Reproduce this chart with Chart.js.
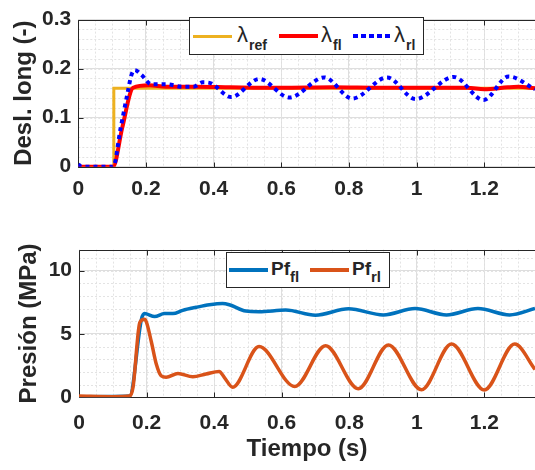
<!DOCTYPE html>
<html>
<head>
<meta charset="utf-8">
<script src="https://cdn.jsdelivr.net/npm/chart.js@4.4.1/dist/chart.umd.min.js"></script>
<style>
    body { margin: 0; background: #fff; width: 535px; height: 470px; overflow: hidden; position: relative;
           font-family: "Liberation Sans", Arial, sans-serif; color: #262626; }
    canvas { position: absolute; left: 0; }
    #slipChart { top: 0; }
    #pressChart { top: 230px; }
    .box { position: absolute; background: #fff; border: 1px solid #262626; box-sizing: border-box; }
    .sw { position: absolute; height: 4px; }
    .lb { position: absolute; white-space: nowrap; }
    .lam { font-size: 22px; line-height: 21px; }
    .lam .sb { font-size: 14px; font-weight: bold; position: relative; top: 8px; margin-left: 1px; }
    .pf { font-size: 19px; line-height: 19px; font-weight: bold; }
    .pf .sb { font-size: 15px; position: relative; top: 7px; }
</style>
</head>
<body>
<canvas id="slipChart" width="535" height="230"></canvas>
<canvas id="pressChart" width="535" height="240"></canvas>

<div class="box" style="left:189px;top:17px;width:235px;height:38px"></div>
<div class="sw" style="left:193px;top:35px;width:39px;height:3px;background:#EDB120"></div>
<div class="lb lam" style="left:237px;top:24px">λ<span class="sb">ref</span></div>
<div class="sw" style="left:279px;top:34px;width:39px;background:#FF0000"></div>
<div class="lb lam" style="left:321px;top:24px">λ<span class="sb">fl</span></div>
<div class="sw" style="left:353px;top:34px;width:37px;background:repeating-linear-gradient(90deg,#0000FF 0 5px,transparent 5px 8px)"></div>
<div class="lb lam" style="left:394px;top:24px">λ<span class="sb">rl</span></div>

<div class="box" style="left:226px;top:252px;width:164px;height:36px"></div>
<div class="sw" style="left:229px;top:268px;width:39px;background:#0072BD"></div>
<div class="lb pf" style="left:271px;top:259px">Pf<span class="sb">fl</span></div>
<div class="sw" style="left:310px;top:268px;width:39px;background:#D95319"></div>
<div class="lb pf" style="left:352px;top:259px">Pf<span class="sb">rl</span></div>

<script>
// ---- data ----
const timeTicks = [0, 0.2, 0.4, 0.6, 0.8, 1, 1.2];
const slipTicks = [0, 0.1, 0.2, 0.3];
const pressTicks = [0, 5, 10];

const tRef = [0, 0.105, 0.105, 1.35];
const lamRef = [0, 0, 0.16, 0.16];

const tFl = [0, 0.103, 0.13, 0.162, 0.21, 0.26, 0.35, 0.45, 0.6, 0.75, 0.9, 1.05, 1.15, 1.2, 1.27, 1.3, 1.35];
const lamFl = [0, 0, 0.08, 0.161, 0.166, 0.163, 0.163, 0.162, 0.161, 0.162, 0.161, 0.161, 0.161, 0.158, 0.162, 0.163, 0.16];

const tRl = [0, 0.01, 0.103, 0.125, 0.147, 0.157, 0.167, 0.187, 0.216, 0.26, 0.309, 0.34, 0.368, 0.388, 0.452,
             0.535, 0.624, 0.727, 0.81, 0.913, 0.997, 1.11, 1.198, 1.272, 1.35];
const lamRl = [0.005, 0, 0, 0.078, 0.155, 0.187, 0.197, 0.187, 0.168, 0.168, 0.163, 0.163, 0.172, 0.171, 0.142,
               0.179, 0.141, 0.182, 0.139, 0.182, 0.138, 0.183, 0.136, 0.184, 0.158];

const tPfl = [0, 0.15, 0.185, 0.194, 0.224, 0.253, 0.278, 0.307, 0.347, 0.386, 0.425, 0.445, 0.494, 0.533,
              0.612, 0.70, 0.798, 0.901, 0.995, 1.088, 1.181, 1.275, 1.35];
const pFl = [0.05, 0.1, 6.17, 6.6, 6.37, 6.6, 6.6, 6.86, 7.1, 7.3, 7.4, 7.3, 6.8, 6.75,
             6.88, 6.48, 6.98, 6.5, 7.0, 6.5, 7.0, 6.5, 7.0];

const tPrl = [0, 0.1, 0.15, 0.16, 0.18, 0.194, 0.2, 0.214, 0.229, 0.243, 0.258, 0.293, 0.337, 0.376, 0.415, 0.43,
              0.455, 0.533, 0.639, 0.73, 0.827, 0.916, 1.014, 1.103, 1.2, 1.29, 1.35];
const pRl = [0.1, 0.05, 0.1, 0.8, 5.9, 6.15, 5.9, 4.4, 2.6, 1.7, 1.58, 1.88, 1.63, 1.84, 2.04, 1.58,
             0.8, 4.0, 0.85, 4.07, 0.68, 4.13, 0.6, 4.2, 0.57, 4.2, 2.2];

const pairs = (xs, ys) => xs.map((x, i) => ({ x, y: ys[i] }));

// dotted minor grid, axes frame and inward tick marks (matlab look)
const axesFrame = {
    id: 'axesFrame',
    beforeDatasetsDraw(chart, args, opts) {
        const { ctx, chartArea: a, scales: { x, y } } = chart;
        ctx.save();
        ctx.strokeStyle = '#e3e3e3';
        ctx.lineWidth = 1;
        ctx.setLineDash([2, 2]);
        for (let v = opts.xMinor; v < x.max; v += opts.xMinor) {
            const px = Math.round(x.getPixelForValue(v)) + 0.5;
            ctx.beginPath(); ctx.moveTo(px, a.top); ctx.lineTo(px, a.bottom); ctx.stroke();
        }
        for (let v = opts.yMinor; v < y.max; v += opts.yMinor) {
            const py = Math.round(y.getPixelForValue(v)) + 0.5;
            ctx.beginPath(); ctx.moveTo(a.left, py); ctx.lineTo(a.right, py); ctx.stroke();
        }
        ctx.setLineDash([]);
        ctx.strokeStyle = '#262626';
        const l = Math.round(a.left) + 0.5, t = Math.round(a.top) + 0.5, b = Math.round(a.bottom) + 0.5;
        ctx.beginPath();
        ctx.moveTo(a.right, t); ctx.lineTo(l, t); ctx.lineTo(l, b); ctx.lineTo(a.right, b);
        x.ticks.forEach(tk => {
            const px = Math.round(x.getPixelForValue(tk.value)) + 0.5;
            ctx.moveTo(px, b); ctx.lineTo(px, b - 5);
            ctx.moveTo(px, t); ctx.lineTo(px, t + 5);
        });
        y.ticks.forEach(tk => {
            const py = Math.round(y.getPixelForValue(tk.value)) + 0.5;
            ctx.moveTo(l, py); ctx.lineTo(l + 5, py);
        });
        ctx.stroke();
        ctx.restore();
    }
};

function setOptions(cfg) {
    return {
        responsive: false,
        animation: false,
        devicePixelRatio: 1,
        layout: { padding: { top: cfg.padTop, left: 0, right: 0, bottom: 0 } },
        elements: { point: { radius: 0 } },
        scales: {
            x: {
                type: 'linear',
                min: 0,
                max: 1.35,
                afterBuildTicks: scale => { scale.ticks = timeTicks.map(v => ({ value: v })); },
                afterFit: scale => { scale.height = cfg.xHeight; },
                grid: { color: '#dedede', drawTicks: false },
                border: { display: false },
                ticks: {
                    padding: cfg.xPad,
                    color: '#262626',
                    font: { family: 'Liberation Sans', size: 21, weight: 'bold' },
                    callback: v => String(v)
                },
                title: {
                    display: !!cfg.xTitle,
                    text: cfg.xTitle,
                    color: '#262626',
                    padding: { top: 0, bottom: 6 },
                    font: { family: 'Liberation Sans', size: 24, weight: 'bold' }
                }
            },
            y: {
                min: 0,
                max: cfg.yMax,
                afterBuildTicks: scale => { scale.ticks = cfg.yTicks.map(v => ({ value: v })); },
                afterFit: scale => { scale.width = cfg.yWidth; },
                grid: { color: '#dedede', drawTicks: false },
                border: { display: false },
                ticks: {
                    padding: 7,
                    color: '#262626',
                    font: { family: 'Liberation Sans', size: 21, weight: 'bold' },
                    callback: v => String(v)
                },
                title: {
                    display: true,
                    text: cfg.yTitle,
                    color: '#262626',
                    padding: { top: cfg.yTitlePad, bottom: 0 },
                    font: { family: 'Liberation Sans', size: 24, weight: 'bold' }
                }
            }
        },
        plugins: {
            legend: { display: false },
            tooltip: { enabled: false },
            axesFrame: { xMinor: 0.05, yMinor: cfg.yMinor }
        }
    };
}

new Chart(document.getElementById('slipChart'), {
    type: 'line',
    data: {
        datasets: [
            { label: 'λrl', data: pairs(tRl, lamRl), borderColor: '#0000FF', borderWidth: 4,
              borderDash: [4, 4], cubicInterpolationMode: 'monotone' },
            { label: 'λfl', data: pairs(tFl, lamFl), borderColor: '#FF0000', borderWidth: 4,
              cubicInterpolationMode: 'monotone' },
            { label: 'λref', data: pairs(tRef, lamRef), borderColor: '#EDB120', borderWidth: 3, tension: 0 }
        ]
    },
    options: setOptions({
        padTop: 11.7, xHeight: 63.3, xPad: 10, yWidth: 78.3, yMax: 0.3, yTicks: slipTicks,
        yMinor: 0.02, yTitle: 'Desl. long (-)', yTitlePad: 10
    }),
    plugins: [axesFrame]
});

new Chart(document.getElementById('pressChart'), {
    type: 'line',
    data: {
        datasets: [
            { label: 'Pfrl', data: pairs(tPrl, pRl), borderColor: '#D95319', borderWidth: 3.5,
              cubicInterpolationMode: 'monotone' },
            { label: 'Pffl', data: pairs(tPfl, pFl), borderColor: '#0072BD', borderWidth: 3.5,
              cubicInterpolationMode: 'monotone' }
        ]
    },
    options: setOptions({
        padTop: 15, xHeight: 72.7, xPad: 13, yWidth: 79, yMax: 11.65, yTicks: pressTicks,
        yMinor: 1, yTitle: 'Presión (MPa)', yTitlePad: 15, xTitle: 'Tiempo (s)'
    }),
    plugins: [axesFrame]
});
</script>
</body>
</html>
